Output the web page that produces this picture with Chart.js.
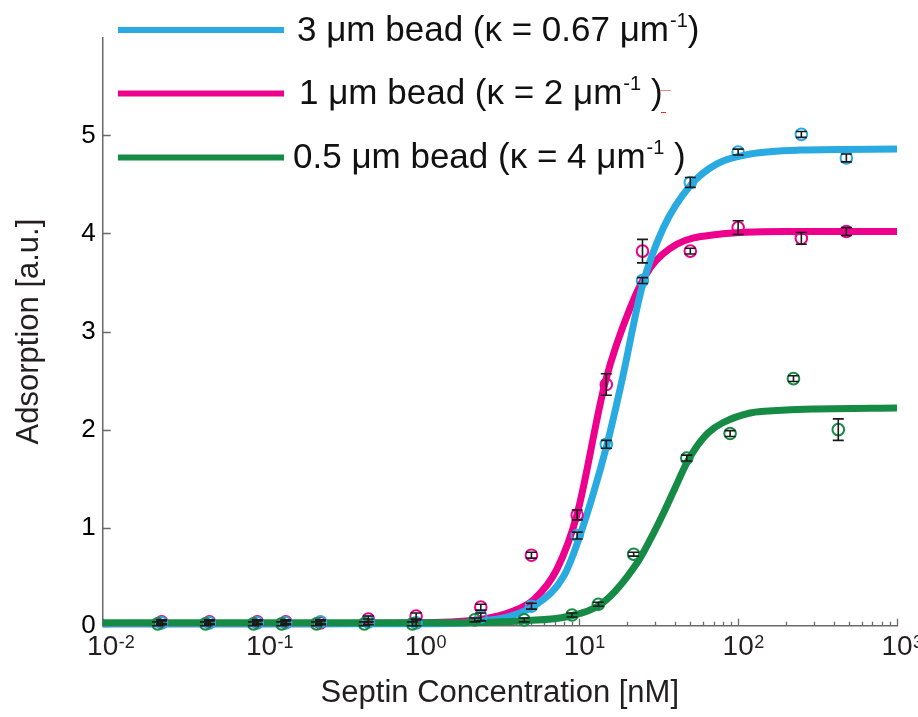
<!DOCTYPE html>
<html>
<head>
<meta charset="utf-8">
<script src="https://cdn.jsdelivr.net/npm/chart.js@4.4.1/dist/chart.umd.min.js"></script>
<style>
  html, body { margin: 0; padding: 0; background: #fff; }
  #wrap { width: 918px; height: 717px; position: relative; }
</style>
</head>
<body>
<div id="wrap"><canvas id="c"></canvas></div>
<script>
// Septin concentration [nM] and measured adsorption for each bead size
const conc3um = [0.0235, 0.047, 0.094, 0.142, 0.235, 0.47, 0.94, 2.4, 5.0, 9.7, 14.8, 25, 50, 100, 250, 480];
const ads3um  = [0.03, 0.03, 0.03, 0.03, 0.04, 0.04, 0.03, 0.09, 0.20, 0.92, 1.85, 3.52, 4.52, 4.83, 5.01, 4.77];
const err3um  = [0.02, 0.02, 0.02, 0.02, 0.02, 0.03, 0.03, 0.04, 0.03, 0.035, 0.04, 0.03, 0.05, 0.03, 0.03, 0.04];

const conc1um = [0.0235, 0.047, 0.094, 0.142, 0.235, 0.47, 0.94, 2.4, 5.0, 9.7, 14.8, 25, 50, 100, 250, 480];
const ads1um  = [0.04, 0.04, 0.04, 0.04, 0.03, 0.07, 0.10, 0.19, 0.72, 1.13, 2.46, 3.82, 3.82, 4.06, 3.95, 4.02];
const err1um  = [0.02, 0.02, 0.02, 0.02, 0.02, 0.03, 0.03, 0.03, 0.03, 0.05, 0.11, 0.12, 0.03, 0.07, 0.06, 0.04];

const conc05um = [0.0222, 0.0444, 0.089, 0.134, 0.222, 0.444, 0.89, 2.2, 4.5, 9.0, 13.2, 22, 47.5, 89, 223, 427];
const ads05um  = [0.02, 0.02, 0.02, 0.02, 0.02, 0.02, 0.02, 0.06, 0.06, 0.11, 0.22, 0.73, 1.71, 1.96, 2.52, 2.00];
const err05um  = [0.02, 0.02, 0.02, 0.02, 0.02, 0.02, 0.02, 0.02, 0.02, 0.02, 0.02, 0.02, 0.03, 0.03, 0.03, 0.11];

// Fitted adsorption isotherms
const fitConc3um = [0.01, 0.1, 1, 2, 2.5, 3.7, 5.4, 8.0, 10.1, 14.9, 18.5, 24.8, 33.9, 50, 73.5, 119, 245, 1000];
const fitAds3um  = [0.02, 0.02, 0.02, 0.03, 0.05, 0.10, 0.22, 0.51, 0.92, 1.84, 2.49, 3.45, 4.06, 4.49, 4.71, 4.81, 4.85, 4.86];

const fitConc1um = [0.01, 0.1, 1, 2.5, 3.7, 5.2, 7.25, 9.66, 14.6, 20.9, 28, 41.1, 73.5, 193, 1000];
const fitAds1um  = [0.02, 0.02, 0.03, 0.07, 0.14, 0.27, 0.58, 1.13, 2.49, 3.24, 3.65, 3.89, 3.99, 4.02, 4.02];

const fitConc05um = [0.01, 0.1, 1, 4.25, 8.8, 14.2, 23.1, 28, 33.9, 40.2, 47.5, 55, 65, 80, 119, 200, 312, 1000];
const fitAds05um  = [0.03, 0.03, 0.03, 0.05, 0.10, 0.24, 0.64, 0.88, 1.15, 1.41, 1.66, 1.83, 1.97, 2.07, 2.17, 2.20, 2.21, 2.22];

// Axis ticks and labels
const yTickValues = [0, 1, 2, 3, 4, 5];
const xTickValues = [0.01, 0.1, 1, 10, 100, 1000];
const xTickExponents = ['-2', '-1', '0', '1', '2', '3'];

// Legend entries: main text, superscript, closing text
const legendMain = ['3 μm bead (κ = 0.67 μm', '1 μm bead (κ = 2 μm', '0.5 μm bead (κ = 4 μm'];
const legendSup  = ['-1', '-1', '-1'];
const legendTail = [')', ' )', ' )'];

const BLUE = '#29ABE2';
const PINK = '#EC008C';
const GREEN = '#168B45';
const FONT = "'Liberation Sans', Arial, Helvetica, sans-serif";
const TEXT = '#231F20';
const AXIS = '#6a6a6a';

const toPoints = (xs, ys) => xs.map((x, i) => ({ x: x, y: ys[i] }));

const pointSets = [
  { xs: conc3um, ys: ads3um, es: err3um },
  { xs: conc1um, ys: ads1um, es: err1um },
  { xs: conc05um, ys: ads05um, es: err05um }
];

// Inward tick marks on both axes
const inwardTicks = {
  id: 'inwardTicks',
  beforeDatasetsDraw(chart) {
    const { ctx, scales: { x, y }, chartArea } = chart;
    ctx.save();
    ctx.strokeStyle = AXIS;
    ctx.lineWidth = 1.3;
    ctx.beginPath();
    yTickValues.forEach(v => {
      const py = Math.round(y.getPixelForValue(v)) + 0.5;
      ctx.moveTo(chartArea.left, py);
      ctx.lineTo(chartArea.left + 8, py);
    });
    for (let d = -2; d <= 2; d++) {
      for (let k = 1; k <= 9; k++) {
        const v = k * Math.pow(10, d);
        const px = Math.round(x.getPixelForValue(v)) + 0.5;
        const len = k === 1 ? 7 : 4;
        ctx.moveTo(px, chartArea.bottom);
        ctx.lineTo(px, chartArea.bottom - len);
      }
    }
    const pEnd = Math.round(x.getPixelForValue(1000)) + 0.5;
    ctx.moveTo(pEnd, chartArea.bottom);
    ctx.lineTo(pEnd, chartArea.bottom - 7);
    ctx.stroke();
    ctx.restore();
  }
};

// Vertical error bars with caps on the measured points
const errorBars = {
  id: 'errorBars',
  afterDatasetsDraw(chart) {
    const { ctx, scales: { x, y } } = chart;
    ctx.save();
    ctx.strokeStyle = '#1a1a1a';
    ctx.lineWidth = 1.6;
    pointSets.forEach(set => {
      set.xs.forEach((cx, i) => {
        const px = x.getPixelForValue(cx);
        const yLo = y.getPixelForValue(set.ys[i] - set.es[i]);
        const yHi = y.getPixelForValue(set.ys[i] + set.es[i]);
        ctx.beginPath();
        ctx.moveTo(px, yLo); ctx.lineTo(px, yHi);
        ctx.moveTo(px - 5.5, yLo); ctx.lineTo(px + 5.5, yLo);
        ctx.moveTo(px - 5.5, yHi); ctx.lineTo(px + 5.5, yHi);
        ctx.stroke();
      });
    });
    ctx.restore();
  }
};

// Powers-of-ten labels under the logarithmic axis
const powerLabels = {
  id: 'powerLabels',
  afterDraw(chart) {
    const { ctx, scales: { x }, chartArea } = chart;
    ctx.save();
    ctx.fillStyle = TEXT;
    ctx.textBaseline = 'alphabetic';
    const base = chartArea.bottom + 29;
    xTickValues.forEach((v, i) => {
      const px = x.getPixelForValue(v);
      ctx.font = '28px ' + FONT;
      const w = ctx.measureText('10').width;
      ctx.textAlign = 'left';
      ctx.fillText('10', px - w / 2, base);
      ctx.font = '18px ' + FONT;
      ctx.fillText(xTickExponents[i], px + w / 2 + 0.5, base - 7);
    });
    ctx.restore();
  }
};

// Legend block with line samples and superscripted units
const legendBlock = {
  id: 'legendBlock',
  afterDraw(chart) {
    const { ctx } = chart;
    const colors = [BLUE, PINK, GREEN];
    const lineY = [30, 93.5, 157.5];
    const textX = [297, 299, 293];
    const baseY = [41, 104, 168];
    ctx.save();
    colors.forEach((c, i) => {
      ctx.strokeStyle = c;
      ctx.lineWidth = 6;
      ctx.beginPath();
      ctx.moveTo(118, lineY[i]);
      ctx.lineTo(284, lineY[i]);
      ctx.stroke();

      ctx.fillStyle = '#111';
      ctx.textAlign = 'left';
      ctx.textBaseline = 'alphabetic';
      ctx.font = '35px ' + FONT;
      ctx.fillText(legendMain[i], textX[i], baseY[i]);
      let cx = textX[i] + ctx.measureText(legendMain[i]).width + 1;
      ctx.font = '20px ' + FONT;
      ctx.fillText(legendSup[i], cx, baseY[i] - 14);
      cx += ctx.measureText(legendSup[i]).width;
      ctx.font = '35px ' + FONT;
      ctx.fillText(legendTail[i], cx, baseY[i]);
    });
    // small red strokes beside the second entry
    ctx.strokeStyle = '#f28a8a';
    ctx.lineWidth = 1;
    ctx.beginPath(); ctx.moveTo(660, 90.5); ctx.lineTo(671, 90.5); ctx.stroke();
    ctx.strokeStyle = '#e23030';
    ctx.beginPath(); ctx.moveTo(661, 112.5); ctx.lineTo(666, 112.5); ctx.stroke();
    ctx.restore();
  }
};

const fitLine = (xs, ys, color, order) => ({
  data: toPoints(xs, ys),
  showLine: true,
  borderColor: color,
  borderWidth: 7,
  pointRadius: 0,
  cubicInterpolationMode: 'monotone',
  borderCapStyle: 'butt',
  clip: false,
  order: order
});

const markers = (xs, ys, color, order) => ({
  data: toPoints(xs, ys),
  showLine: false,
  pointStyle: 'circle',
  pointRadius: 5.8,
  pointBorderWidth: 2,
  pointBorderColor: color,
  pointBackgroundColor: 'rgba(255,255,255,0)',
  clip: false,
  order: order
});

new Chart(document.getElementById('c'), {
  type: 'scatter',
  data: {
    datasets: [
      fitLine(fitConc1um, fitAds1um, PINK, 6),
      fitLine(fitConc3um, fitAds3um, BLUE, 5),
      fitLine(fitConc05um, fitAds05um, GREEN, 4),
      markers(conc1um, ads1um, PINK, 3),
      markers(conc3um, ads3um, BLUE, 2),
      markers(conc05um, ads05um, GREEN, 1)
    ]
  },
  options: {
    responsive: true,
    maintainAspectRatio: false,
    animation: false,
    events: [],
    layout: { padding: { left: 6, right: 21, top: 37.3, bottom: 3 } },
    plugins: { legend: { display: false }, tooltip: { enabled: false } },
    scales: {
      x: {
        type: 'logarithmic',
        min: 0.01,
        max: 1000,
        grid: { display: false, drawTicks: false },
        border: { display: true, color: AXIS, width: 1.5 },
        ticks: { display: false },
        title: {
          display: true,
          text: 'Septin Concentration [nM]',
          color: TEXT,
          font: { family: FONT, size: 31 },
          padding: { top: 49, bottom: 2 }
        }
      },
      y: {
        type: 'linear',
        min: 0,
        max: 6,
        afterBuildTicks: s => { s.ticks = yTickValues.map(v => ({ value: v })); },
        grid: { display: false, drawTicks: false },
        border: { display: true, color: AXIS, width: 1.5 },
        ticks: { color: '#000', font: { family: FONT, size: 26 }, padding: 7 },
        title: {
          display: true,
          text: 'Adsorption [a.u.]',
          color: TEXT,
          font: { family: FONT, size: 31 },
          padding: { top: 5, bottom: 26 }
        }
      }
    }
  },
  plugins: [inwardTicks, errorBars, powerLabels, legendBlock]
});
</script>
</body>
</html>
